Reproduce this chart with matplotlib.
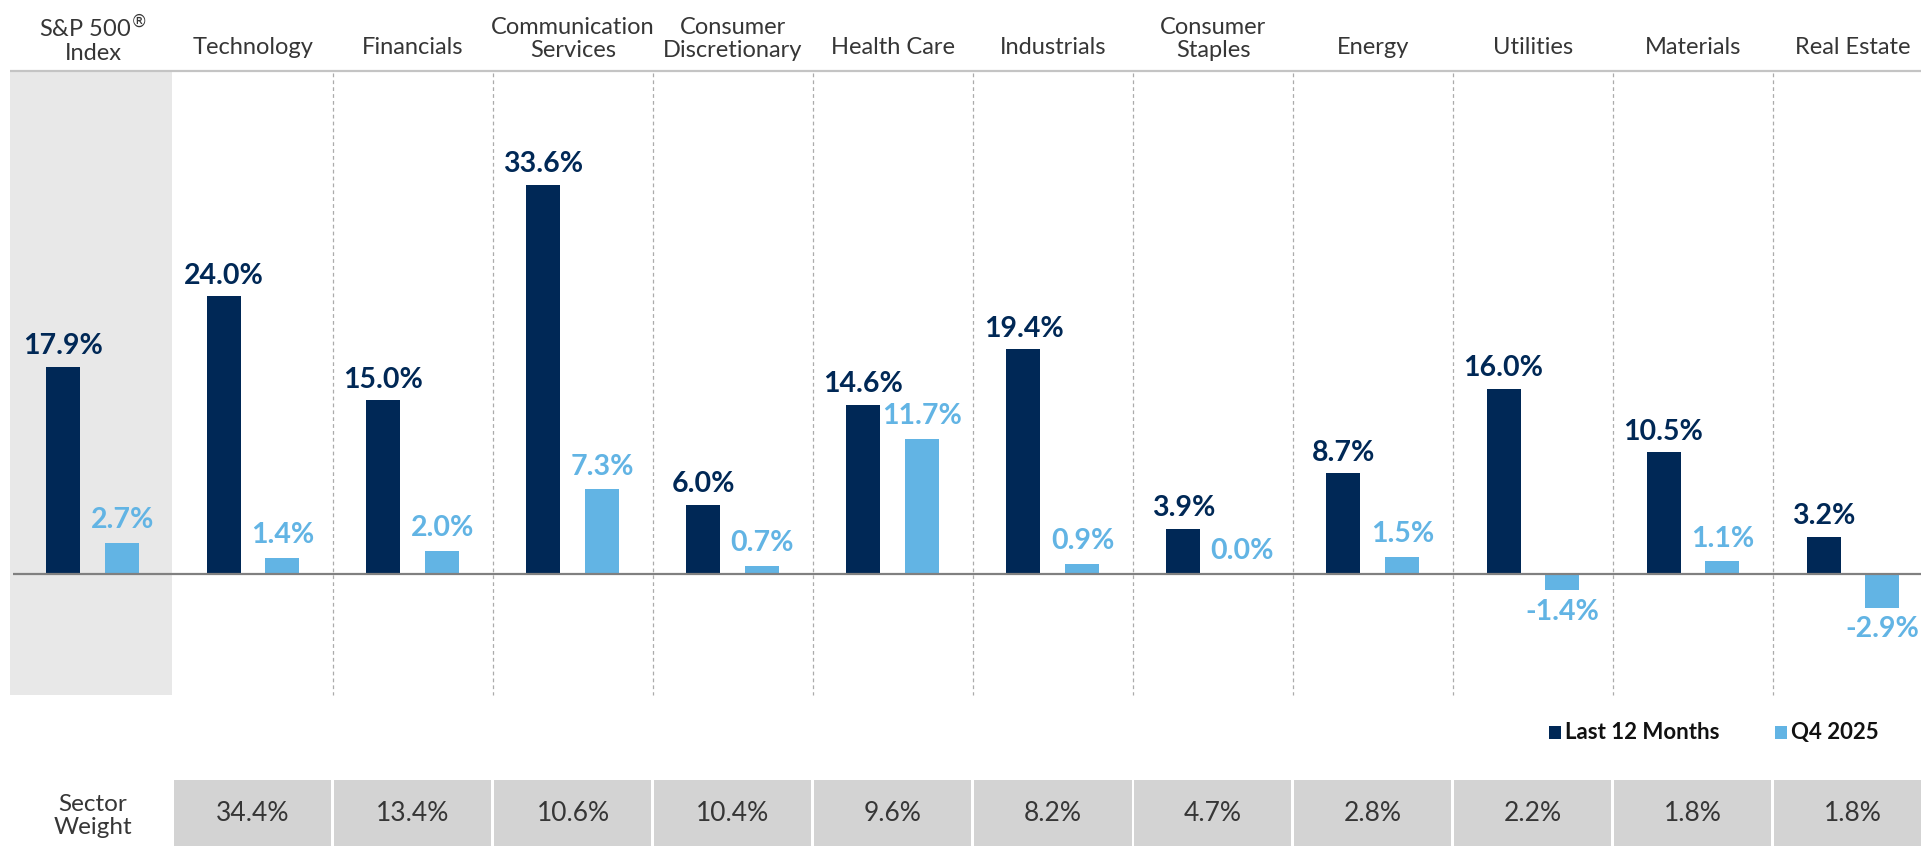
import matplotlib
matplotlib.use("Agg")
import matplotlib.pyplot as plt
from matplotlib.patches import Rectangle
import numpy as np

# ---------------- data ----------------
categories = ["S&P 500$^{\u00ae}$\nIndex", "Technology", "Financials", "Communication\nServices",
              "Consumer\nDiscretionary", "Health Care", "Industrials", "Consumer\nStaples",
              "Energy", "Utilities", "Materials", "Real Estate"]
last_12_months = [17.9, 24.0, 15.0, 33.6, 6.0, 14.6, 19.4, 3.9, 8.7, 16.0, 10.5, 3.2]
q4_2025 = [2.7, 1.4, 2.0, 7.3, 0.7, 11.7, 0.9, 0.0, 1.5, -1.4, 1.1, -2.9]
sector_weights = ["", "34.4%", "13.4%", "10.6%", "10.4%", "9.6%", "8.2%", "4.7%",
                  "2.8%", "2.2%", "1.8%", "1.8%"]
series_names = ["Last 12 Months", "Q4 2025"]

# ---------------- style ----------------
DARK = "#002856"
LIGHT = "#62B4E4"
BAND = "#E8E8E8"
CELL = "#D3D3D3"
TXT = "#363636"
FONT = ["Lato", "DejaVu Sans"]
plt.rcParams["font.family"] = FONT
plt.rcParams["mathtext.fontset"] = "custom"
plt.rcParams["mathtext.rm"] = "DejaVu Sans"

W, H, DPI = 1921, 846, 100
PITCH = 160.0      # px per category
X0 = 93.0          # px centre of first category
Y0 = 574.0         # px of zero line (from top)
K = 11.58          # px per percentage point

fig = plt.figure(figsize=(W / DPI, H / DPI), dpi=DPI)
ax = fig.add_axes([0, 0, 1, 1])
ax.set_xlim(-X0 / PITCH, (W - X0) / PITCH)
ax.set_ylim(-(H - Y0) / K, Y0 / K)
ax.axis("off")

def py(p):
    """pixel-from-top -> data y"""
    return (Y0 - p) / K

def px(p):
    return (p - X0) / PITCH

n = len(categories)
x = np.arange(n)
bw = 34 / PITCH
off = 29.5 / PITCH

# grey band behind S&P 500
ax.add_patch(Rectangle((px(10), py(695)), px(172) - px(10), py(71) - py(695),
                       facecolor=BAND, edgecolor="none", zorder=0))
# top rule
ax.plot([px(10), px(W)], [py(71), py(71)], color="#C4C4C4", lw=1.6, zorder=1,
        solid_capstyle="butt")
# dashed dividers
for i in range(1, n - 1):
    ax.plot([i + 0.5, i + 0.5], [py(73), py(695)], color="#ABABAB", lw=0.9,
            ls=(0, (3, 2.5)), zorder=1)

# bars
b1 = ax.bar(x - off, last_12_months, width=bw, color=DARK, zorder=3)
b2 = ax.bar(x + off, q4_2025, width=bw, color=LIGHT, zorder=3)

# zero line
ax.plot([px(13), px(W)], [0, 0], color="#808080", lw=1.6, zorder=4,
        solid_capstyle="butt")

# value labels
def label(bars, vals, color, up_off):
    for b, v in zip(bars, vals):
        cx = b.get_x() + b.get_width() / 2
        if v >= 0:
            ax.annotate(f"{v:.1f}%", (cx, v), xytext=(0, up_off), textcoords="offset points",
                        ha="center", va="baseline", fontsize=20.5, fontweight="bold", color=color)
        else:
            ax.annotate(f"{v:.1f}%", (cx, v), xytext=(0, -6), textcoords="offset points",
                        ha="center", va="top", fontsize=20.5, fontweight="bold", color=color)

label(b1, last_12_months, DARK, 9)
label(b2, q4_2025, LIGHT, 10.5)

# header category labels
for i, c in enumerate(categories):
    yc = 39 if "\n" in c else 48
    ax.text(i, py(yc), c, ha="center", va="center", fontsize=17, color=TXT,
            linespacing=1.1)

# sector weight table
gap = 3 / PITCH
for i in range(1, n):
    ax.add_patch(Rectangle((i - 0.5 + gap / 2, py(846)), 1 - gap, py(780) - py(846),
                           facecolor=CELL, edgecolor="none", zorder=1, clip_on=False))
    ax.text(i, py(813), sector_weights[i], ha="center", va="center", fontsize=19,
            color=TXT)
ax.text(0, py(816), "Sector\nWeight", ha="center", va="center", fontsize=17.5,
        color=TXT, linespacing=1.1)

# legend (manual)
leg_items = [(1549, DARK, series_names[0]), (1775, LIGHT, series_names[1])]
for lx, col, name in leg_items:
    ax.add_patch(Rectangle((px(lx), py(739)), 12 / PITCH, py(726) - py(739),
                           facecolor=col, edgecolor="none"))
    ax.text(px(lx + 16), py(732), name, ha="left", va="center", fontsize=16,
            fontweight="bold", color="#111111")

fig.savefig("out.png", dpi=DPI)
